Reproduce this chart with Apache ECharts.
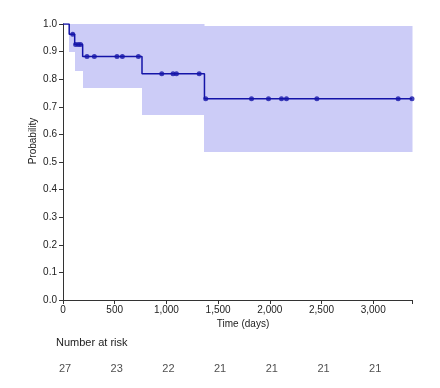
<!DOCTYPE html>
<html><head><meta charset="utf-8">
<script src="https://cdn.jsdelivr.net/npm/echarts@6/dist/echarts.min.js"></script>
<style>html,body{margin:0;padding:0;background:#fff}#c{width:440px;height:388px}</style>
</head><body><div id="c"></div>
<script>
// Kaplan-Meier step points (time in days, survival probability)
const stepTimes = [0, 60, 113, 190, 764, 1368, 3375];
const stepSurv  = [1.0, 0.963, 0.926, 0.882, 0.820, 0.729, 0.729];
// Censor marks
const censorTimes = [94, 122, 148, 170, 232, 303, 522, 574, 729, 955, 1064, 1097, 1317, 1380, 1823, 1987, 2113, 2161, 2455, 3241, 3375];
const censorSurv  = [0.963, 0.926, 0.926, 0.926, 0.882, 0.882, 0.882, 0.882, 0.882, 0.820, 0.820, 0.820, 0.820, 0.729, 0.729, 0.729, 0.729, 0.729, 0.729, 0.729, 0.729];
// Confidence band intervals
const ciStart = [60, 113, 190, 764, 1368];
const ciEnd   = [113, 190, 764, 1368, 3375];
const ciLower = [0.897, 0.830, 0.768, 0.671, 0.535];
const ciUpper = [1.0, 1.0, 1.0, 1.0, 0.991];
// Number at risk
const riskTimes  = [0, 500, 1000, 1500, 2000, 2500, 3000];
const riskCounts = [27, 23, 22, 21, 21, 21, 21];
const xTickLabels = ['0', '500', '1,000', '1,500', '2,000', '2,500', '3,000'];
const xMax = 3375;

const font = 'Liberation Sans, Arial, sans-serif';
const lineColor = '#1414a8';
const bandColor = '#ccccf7';
const axisColor = '#333';

const chart = echarts.init(document.getElementById('c'), null, {renderer: 'canvas'});
chart.setOption({
  animation: false,
  backgroundColor: '#fff',
  grid: [
    {left: 63, right: 28, top: 24, height: 276},
    {left: 63, right: 28, top: 355, height: 28}
  ],
  xAxis: [{
    type: 'value', gridIndex: 0, min: 0, max: xMax, interval: 500,
    splitLine: {show: false},
    axisLine: {lineStyle: {color: axisColor, width: 1}},
    axisTick: {show: true, length: 4, lineStyle: {color: axisColor}, customValues: riskTimes.concat([xMax])},
    axisLabel: {
      margin: 5, fontSize: 10, fontFamily: font, color: '#222',
      customValues: riskTimes,
      formatter: v => { const i = riskTimes.indexOf(v); return i >= 0 ? xTickLabels[i] : ''; }
    }
  }, {
    type: 'value', gridIndex: 1, min: 0, max: xMax, show: false
  }],
  yAxis: [{
    type: 'value', gridIndex: 0, min: 0, max: 1, interval: 0.1,
    splitLine: {show: false},
    axisLine: {show: true, lineStyle: {color: axisColor, width: 1}},
    axisTick: {show: true, length: 4, lineStyle: {color: axisColor}},
    axisLabel: {margin: 6, fontSize: 10, fontFamily: font, color: '#222', formatter: v => v.toFixed(1)}
  }, {
    type: 'value', gridIndex: 1, min: 0, max: 1, show: false
  }],
  graphic: [
    {type: 'text', x: 33, y: 141, rotation: Math.PI / 2,
     style: {text: 'Probability', font: '10px ' + font, fill: '#222', align: 'center', verticalAlign: 'middle'}},
    {type: 'text', x: 243, y: 324,
     style: {text: 'Time (days)', font: '10px ' + font, fill: '#222', align: 'center', verticalAlign: 'middle'}},
    {type: 'text', x: 56, y: 343,
     style: {text: 'Number at risk', font: '11px ' + font, fill: '#222', align: 'left', verticalAlign: 'middle'}}
  ],
  series: [
    {
      type: 'custom', xAxisIndex: 0, yAxisIndex: 0, silent: true, z: 1,
      data: ciStart.map((s, i) => [s, ciEnd[i], ciLower[i], ciUpper[i]]),
      renderItem: (params, api) => {
        const p0 = api.coord([api.value(0), api.value(3)]);
        const p1 = api.coord([api.value(1), api.value(2)]);
        const x0 = Math.round(p0[0]), x1 = Math.round(p1[0]);
        const y0 = Math.round(p0[1]), y1 = Math.round(p1[1]);
        return {type: 'rect', shape: {x: x0, y: y0, width: x1 - x0 + 0.5, height: y1 - y0},
                style: {fill: bandColor}};
      }
    },
    {
      type: 'line', xAxisIndex: 0, yAxisIndex: 0, step: 'end', z: 3,
      data: stepTimes.map((t, i) => [t, stepSurv[i]]),
      showSymbol: false, symbol: 'none',
      lineStyle: {color: lineColor, width: 1.5}
    },
    {
      type: 'scatter', xAxisIndex: 0, yAxisIndex: 0, z: 4,
      data: censorTimes.map((t, i) => [t, censorSurv[i]]),
      symbolSize: 5, itemStyle: {color: lineColor}
    },
    {
      type: 'scatter', xAxisIndex: 1, yAxisIndex: 1,
      data: riskTimes.map((t, i) => [t, 0.5, riskCounts[i]]),
      symbolSize: 0,
      label: {show: true, position: 'inside', fontSize: 11, fontFamily: font, color: '#222',
              offset: [2, 0], formatter: p => String(p.value[2])}
    }
  ]
});
</script></body></html>
